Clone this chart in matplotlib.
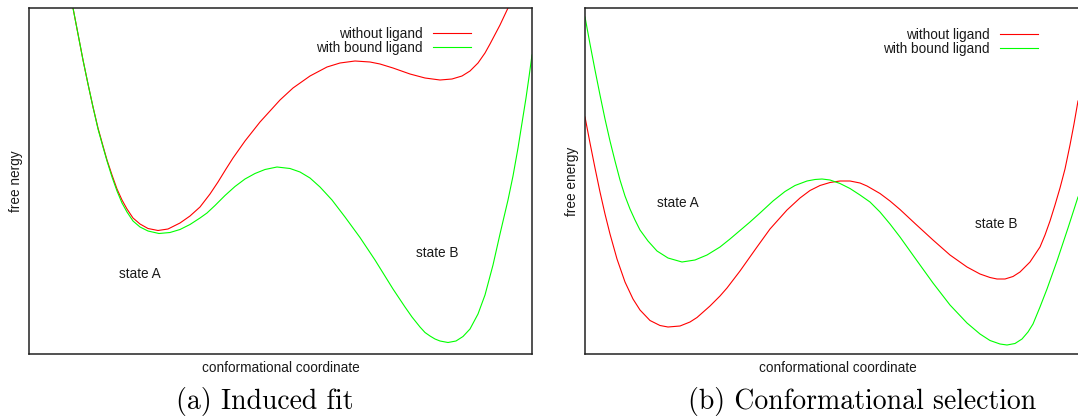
#!/usr/bin/env python
# free energy landscapes: induced fit vs conformational selection
import matplotlib
matplotlib.use("Agg")
import matplotlib.pyplot as plt

# panel (a) induced fit, conformational coordinate / free energy in arbitrary units
coord_a_free = [44, 49, 54, 59, 64, 69, 74, 78, 83, 88, 93, 98, 104, 111, 119, 129, 139, 151, 161, 171,
                181, 189, 197, 204, 216, 231, 241, 251, 264, 281, 298, 311, 326, 341, 351, 364, 381,
                396, 411, 423, 433, 441, 449, 456, 461, 466, 471, 475, 479]
energy_a_free = [346, 320, 294, 270, 247, 226, 208, 194, 179, 165, 154, 145, 136, 130, 125.5, 123.5,
                 125, 131, 138, 147, 160, 172, 185, 196, 213, 232, 243, 254, 266, 278, 287, 291, 293,
                 292, 290, 286, 280, 276, 274, 275, 278, 283, 291, 301, 310, 319.5, 329, 337.5, 346]

coord_a_bound = [44, 49, 54, 59, 64, 69, 74, 78, 83, 88, 93, 98, 104, 111, 119, 130, 141, 151, 161, 171,
                 178, 186, 196, 206, 216, 226, 236, 248, 261, 271, 281, 291, 303, 316, 331, 346, 364,
                 376, 383, 391, 396, 401, 406, 411, 419, 427, 434, 441, 449, 456, 464, 471, 479, 484,
                 489, 493, 497, 500, 503]
energy_a_bound = [346, 320, 294, 270, 247, 225, 207, 193, 177, 163, 151, 142, 133, 127, 123, 120.5,
                  121.5, 124.5, 129.5, 136, 141, 148.5, 158.5, 167.5, 175, 180.5, 184.5, 187, 185.5,
                  182, 176, 167, 154, 137, 116.5, 94, 65, 47, 37, 27, 21.5, 18, 15, 13, 11.5, 13,
                  17.5, 25, 40, 59, 89, 120, 154, 178, 206, 231, 256, 277, 299]

# panel (b) conformational selection
coord_b_free = [0, 5, 10, 15, 20, 25, 32, 40, 48, 55, 65, 75, 83, 95, 105, 112, 125, 135, 142, 155, 172,
                185, 202, 215, 225, 235, 245, 255, 265, 275, 282, 295, 305, 315, 330, 348, 365, 382,
                395, 405, 412, 420, 428, 435, 445, 455, 460, 465, 470, 475, 480, 485, 489, 493]
energy_b_free = [237, 211, 186, 162, 140, 120, 95, 72, 55, 44, 33.5, 28.5, 27, 28, 32, 36.5, 48, 58,
                 66, 83, 107, 125, 144, 156, 163.5, 168.5, 171.5, 173, 173, 171, 168, 160.5, 153,
                 144.5, 130.5, 114, 99, 87, 80, 76.5, 75, 75, 77.5, 82, 92, 107, 119, 133, 149, 166,
                 185, 209, 230, 253]

coord_b_bound = [0, 5, 10, 15, 20, 25, 30, 35, 40, 45, 50, 55, 63, 72, 83, 97, 110, 122, 135, 145, 155,
                 165, 175, 188, 200, 210, 222, 230, 237, 245, 255, 265, 275, 285, 295, 305, 315, 330,
                 348, 365, 382, 395, 405, 415, 422, 430, 437, 443, 448, 455, 462, 467, 472, 478, 483,
                 488, 493]
energy_b_bound = [337, 310, 284, 259, 235, 213, 193, 174, 158, 145, 134, 124, 113, 103, 96, 92, 94, 99,
                  107, 115, 123.5, 132, 141, 153, 162.5, 168.5, 173, 174.5, 175, 174, 170.5, 165.5,
                  159, 152, 142, 130, 117, 96, 71, 49, 31, 20, 13.5, 10, 9, 10.5, 15, 22, 30, 47, 65,
                  79, 93, 111, 126, 141.5, 157]

labels = ["without ligand", "with bound ligand"]
ylabels = ["free nergy", "free energy"]
captions = ["(a) Induced fit", "(b) Conformational selection"]

plt.rcParams["font.family"] = ["Liberation Sans", "DejaVu Sans"]
textcol = "#1a1a1a"

fig = plt.figure(figsize=(10.78, 4.18), dpi=100)
W, H = 1078.0, 418.0
ax_a = fig.add_axes([29 / W, (H - 354) / H, 503 / W, 346 / H])
ax_b = fig.add_axes([585 / W, (H - 354) / H, 505 / W, 346 / H])

ax_a.plot(coord_a_free, energy_a_free, color="#ff0000", lw=0.8, label=labels[0])
ax_a.plot(coord_a_bound, energy_a_bound, color="#00ff00", lw=0.8, label=labels[1])
ax_b.plot(coord_b_free, energy_b_free, color="#ff0000", lw=0.8, label=labels[0])
ax_b.plot(coord_b_bound, energy_b_bound, color="#00ff00", lw=0.8, label=labels[1])

ax_a.text(111, 80, "state A", ha="center", va="center", fontsize=9.8, color=textcol)
ax_a.text(408, 101, "state B", ha="center", va="center", fontsize=9.8, color=textcol)
ax_b.text(93, 151, "state A", ha="center", va="center", fontsize=9.8, color=textcol)
ax_b.text(411, 130, "state B", ha="center", va="center", fontsize=9.8, color=textcol)

anchors = [(0.879, 0.945), (0.897, 0.942)]
for ax, yl, anc, w in zip([ax_a, ax_b], ylabels, anchors, [503, 505]):
    ax.set_xlim(0, w)
    ax.set_ylim(0, 346)
    ax.set_xticks([])
    ax.set_yticks([])
    for sp in ax.spines.values():
        sp.set_linewidth(1.1)
        sp.set_color("#222222")
    ax.set_xlabel("conformational coordinate", fontsize=9.8, color=textcol, labelpad=5)
    ax.set_ylabel(yl, fontsize=9.8, color=textcol, labelpad=4)
    ax.legend(loc="upper right", bbox_to_anchor=anc, frameon=False, markerfirst=False,
              fontsize=9.8, handlelength=2.8, handletextpad=0.75, borderpad=0,
              borderaxespad=0, labelspacing=0.0, labelcolor=textcol)

fig.text(265 / W, 1 - 401 / H, captions[0], ha="center", va="center", fontsize=20,
         family="cmr10", color="black")
fig.text(862 / W, 1 - 401 / H, captions[1], ha="center", va="center", fontsize=20,
         family="cmr10", color="black")

fig.savefig("out.png", dpi=100)
